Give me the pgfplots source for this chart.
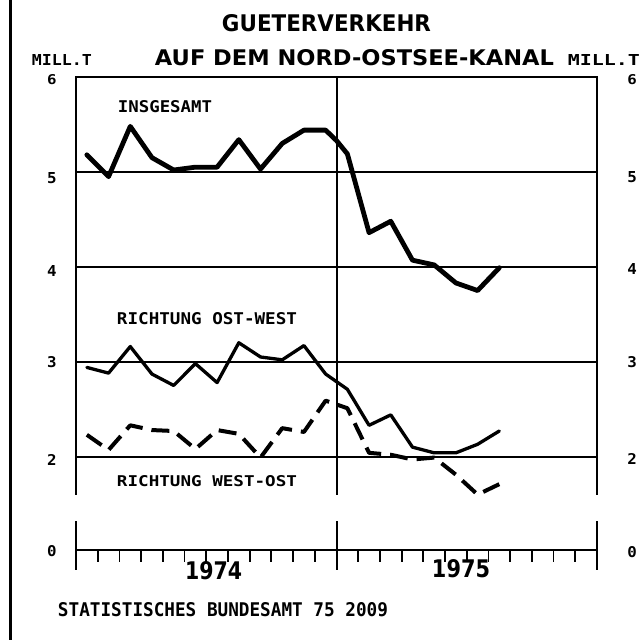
\documentclass[border=0pt]{standalone}
\usepackage{fontspec}
\setmainfont{DejaVu Sans}
\setmonofont{DejaVu Sans Mono}
\usepackage{graphicx}
\usepackage{pgfplots}
\pgfplotsset{compat=1.18}
\newcommand{\lbl}[5]{\node[inner sep=0pt,anchor=center] at (#1,{640-#2}) {\resizebox{#3bp}{#4bp}{\ttfamily\bfseries #5}};}
\newcommand{\tlbl}[5]{\node[inner sep=0pt,anchor=center] at (#1,{640-#2}) {\resizebox{#3bp}{#4bp}{\bfseries #5}};}
\begin{document}
\begin{tikzpicture}
\useasboundingbox (0,0) rectangle (642bp,640bp);
\fill[white] (0,0) rectangle (642bp,640bp);
\draw[line width=3bp] (10bp,0) -- (10bp,640bp);

\begin{axis}[at={(76bp,145.4bp)}, anchor=south west, scale only axis,
  width=521bp, height=417.6bp, xmin=0, xmax=24, ymin=1.6, ymax=6,
  hide axis, clip=false]
\draw[line width=2bp] (axis cs:0,1.6)--(axis cs:0,6)--(axis cs:24,6)--(axis cs:24,1.6);
\draw[line width=2bp] (axis cs:12,1.6)--(axis cs:12,6);
\draw[line width=2bp] (axis cs:0,2)--(axis cs:24,2);
\draw[line width=2bp] (axis cs:0,3)--(axis cs:24,3);
\draw[line width=2bp] (axis cs:0,4)--(axis cs:24,4);
\draw[line width=2bp] (axis cs:0,5)--(axis cs:24,5);
% Insgesamt
\addplot[black, line width=4.8bp, line join=round, line cap=round] table {
0.5 5.18
1.5 4.95
2.5 5.48
3.5 5.15
4.5 5.02
5.5 5.05
6.5 5.05
7.5 5.34
8.5 5.03
9.5 5.30
10.5 5.44
11.5 5.44
12.0 5.33
12.5 5.19
13.5 4.36
14.5 4.48
15.5 4.07
16.5 4.02
17.5 3.83
18.5 3.75
19.5 3.99
};
% Richtung Ost-West
\addplot[black, line width=3.3bp, line join=round, line cap=round] table {
0.5 2.94
1.5 2.88
2.5 3.16
3.5 2.87
4.5 2.75
5.5 2.98
6.5 2.78
7.5 3.20
8.5 3.05
9.5 3.02
10.5 3.17
11.5 2.87
12.5 2.71
13.5 2.33
14.5 2.44
15.5 2.10
16.5 2.04
17.5 2.04
18.5 2.13
19.5 2.27
};
% Richtung West-Ost
\addplot[black, line width=4bp, line join=round, dash pattern=on 18bp off 9bp] table {
0.5 2.23
1.5 2.07
2.5 2.33
3.5 2.28
4.5 2.27
5.5 2.08
6.5 2.28
7.5 2.24
8.5 1.99
9.5 2.30
10.5 2.26
11.5 2.59
12.5 2.51
13.5 2.04
14.5 2.02
15.5 1.97
16.5 1.99
17.5 1.81
18.5 1.60
19.5 1.71
};
\end{axis}

\begin{axis}[at={(76bp,90bp)}, anchor=south west, scale only axis,
  width=521bp, height=28.5bp, xmin=0, xmax=24, ymin=0, ymax=0.3,
  hide axis, clip=false]
\draw[line width=2.5bp] (axis cs:0,0)--(axis cs:24,0);
\draw[line width=2bp] (axis cs:0,0.3)--(axis cs:0,0)--++(0,-20bp);
\draw[line width=2bp] (axis cs:12,0.3)--(axis cs:12,0)--++(0,-20bp);
\draw[line width=2bp] (axis cs:24,0.3)--(axis cs:24,0)--++(0,-20bp);
\pgfplotsinvokeforeach{1,2,3,4,5,6,7,8,9,10,11,13,14,15,16,17,18,19,20,21,22,23}{
  \draw[line width=1.8bp] (axis cs:#1,0)--++(0,-12bp);
}
\end{axis}

\begin{scope}[x=1bp,y=1bp]
\tlbl{326.5}{23.5}{209}{17}{GUETERVERKEHR}
\tlbl{354.5}{57.5}{399}{16}{AUF DEM NORD-OSTSEE-KANAL}
\lbl{62}{60}{60}{11}{MILL.T}
\lbl{604}{60}{72}{11}{MILL.T}
\lbl{52}{80}{9.5}{10}{6}
\lbl{52}{178}{9.5}{11}{5}
\lbl{52}{271}{9.5}{11}{4}
\lbl{52}{362}{9.5}{11}{3}
\lbl{52}{460}{9.5}{11}{2}
\lbl{52}{551}{9.5}{11}{0}
\lbl{632}{80}{9.5}{10}{6}
\lbl{632}{177}{9.5}{11}{5}
\lbl{632}{269}{9.5}{11}{4}
\lbl{632}{362}{9.5}{11}{3}
\lbl{632}{459}{9.5}{11}{2}
\lbl{632}{552}{9.5}{11}{0}
\lbl{165}{107}{94}{12}{INSGESAMT}
\lbl{207}{319}{180}{12}{RICHTUNG OST-WEST}
\lbl{207}{481.5}{180}{11}{RICHTUNG WEST-OST}
\tlbl{213.5}{571}{57}{18}{1974}
\tlbl{461}{569}{58}{18}{1975}
\lbl{223}{610}{330}{14}{STATISTISCHES BUNDESAMT 75 2009}
\end{scope}
\end{tikzpicture}
\end{document}
